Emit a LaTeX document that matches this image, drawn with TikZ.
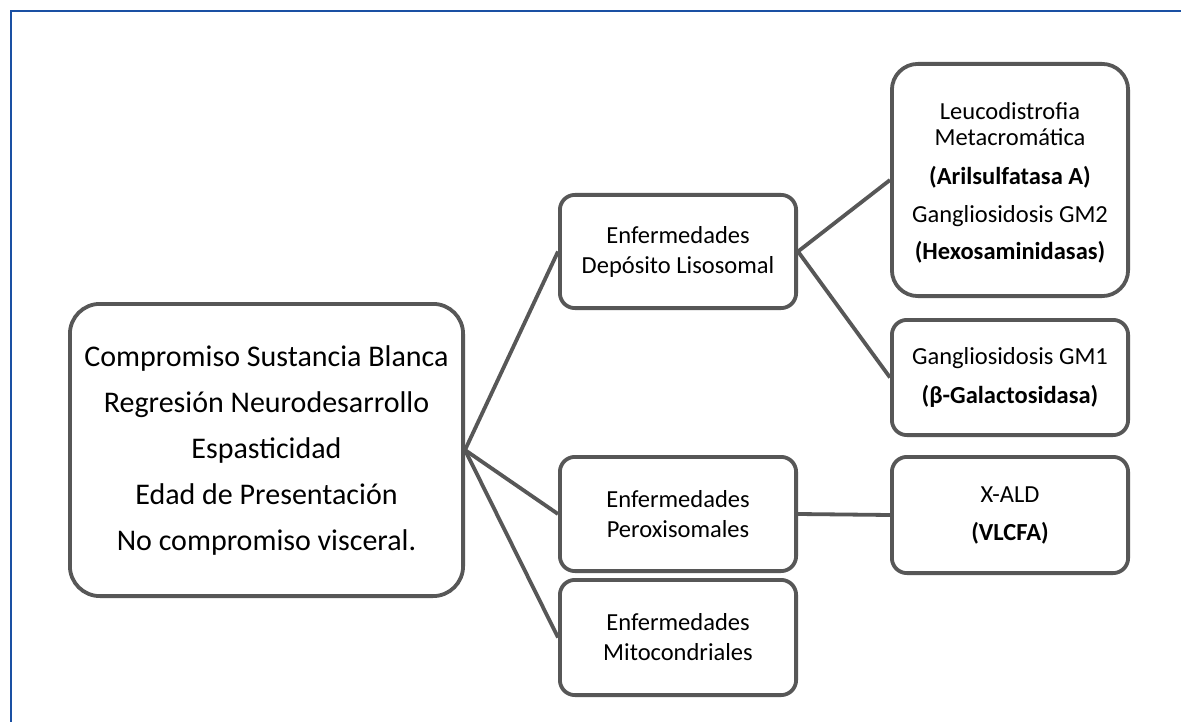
\documentclass[tikz,border=0pt]{standalone}
\usepackage{fontspec}
\setmainfont{Carlito}
\definecolor{boxgray}{HTML}{575757}
\definecolor{frameblue}{HTML}{1A50A3}
\begin{document}
\begin{tikzpicture}[x=1pt,y=-1pt,
  box/.style={draw=boxgray, line width=3.8pt, fill=white, align=center, inner sep=0pt},
  small/.style={box, rounded corners=15pt, minimum width=236.2pt, font=\fontsize{24.5}{30}\selectfont},
  link/.style={draw=boxgray, line width=3.8pt}]
\useasboundingbox (0,0) rectangle (1181,722);
\fill[white] (0,0) rectangle (1181,722);
\draw[frameblue, line width=2.5pt] (11,722) -- (11,11) -- (1181,11);

\node[box, rounded corners=30pt, minimum width=393.2pt, minimum height=292.2pt,
  font=\fontsize{30}{46}\selectfont] (main) at (266.5,450)
  {Compromiso Sustancia Blanca\\Regresión Neurodesarrollo\\Espasticidad\\Edad de Presentación\\No compromiso visceral.};

\node[small, minimum height=113.2pt] (dep) at (678,251.5) {Enfermedades\\Depósito Lisosomal};
\node[small, minimum height=114.2pt] (per) at (678,514) {Enfermedades\\Peroxisomales};
\node[small, minimum height=115.2pt] (mit) at (678,637.5) {Enfermedades\\Mitocondriales};

\node[small, rounded corners=26pt, minimum height=232.2pt, font=\fontsize{24.5}{26}\selectfont] (leu) at (1010,180)
  {\rule{0pt}{22pt}Leucodistrofia\\Metacromática\\[13pt]\textbf{(Arilsulfatasa A)}\\[12pt]Gangliosidosis GM2\\[11pt]\textbf{(Hexosaminidasas)}};
\node[small, minimum height=115.2pt, font=\fontsize{24.5}{39}\selectfont] (gm1) at (1010,377.5)
  {Gangliosidosis GM1\\\textbf{(β-Galactosidasa)}};
\node[small, minimum height=116.2pt, font=\fontsize{24.5}{38}\selectfont] (xald) at (1010,515)
  {X-ALD\\\textbf{(VLCFA)}};

\draw[link] (main.east) -- (dep.west);
\draw[link] (main.east) -- (per.west);
\draw[link] (main.east) -- (mit.west);
\draw[link] (dep.east) -- (leu.west);
\draw[link] (dep.east) -- (gm1.west);
\draw[link] (per.east) -- (xald.west);
\end{tikzpicture}
\end{document}
